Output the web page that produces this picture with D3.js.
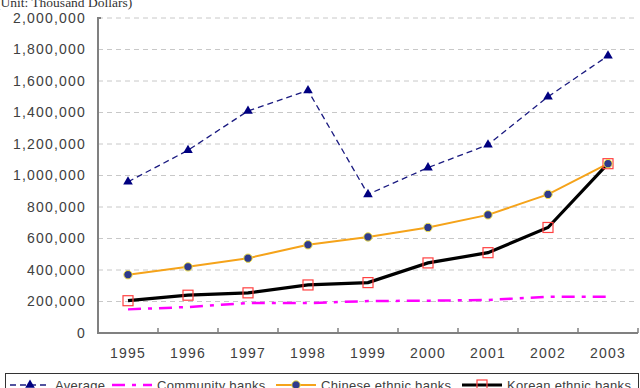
<!DOCTYPE html>
<html>
<head>
<meta charset="utf-8">
<script src="https://cdn.jsdelivr.net/npm/d3@7"></script>
<style>
  body { margin: 0; background: #fff; }
  svg { display: block; }
  .tick text { font-family: "Liberation Sans", Arial, sans-serif; font-size: 14px; fill: #404040; letter-spacing: 1.2px; }
</style>
</head>
<body>
<div id="chart"></div>
<script>
// Chart data (thousand dollars)
var years = ["1995", "1996", "1997", "1998", "1999", "2000", "2001", "2002", "2003"];
var average   = [960000, 1160000, 1410000, 1540000, 880000, 1050000, 1195000, 1500000, 1760000];
var community = [150000, 165000, 190000, 190000, 203000, 205000, 210000, 230000, 230000];
var chinese   = [370000, 420000, 475000, 560000, 610000, 670000, 750000, 880000, 1075000];
var korean    = [205000, 240000, 255000, 305000, 320000, 445000, 510000, 670000, 1075000];
var yTicks = [0, 200000, 400000, 600000, 800000, 1000000, 1200000, 1400000, 1600000, 1800000, 2000000];

var width = 640, height = 388;
var plot = {left: 98, right: 638, top: 18, bottom: 333};

var svg = d3.select("#chart").append("svg")
	.attr("width", width)
	.attr("height", height);

var x = d3.scaleBand()
	.domain(years)
	.range([plot.left, plot.right])
	.padding(0);
var y = d3.scaleLinear()
	.domain([0, 2000000])
	.range([plot.bottom, plot.top]);
function cx(d, i) { return x(years[i]) + x.bandwidth() / 2; }

// unit caption, clipped at the top edge like the original
svg.append("text")
	.attr("x", -4).attr("y", 7)
	.style("font-family", "'Liberation Serif', 'Times New Roman', serif")
	.style("font-size", "13.5px")
	.style("fill", "#333")
	.text("(Unit: Thousand Dollars)");

// gridlines
svg.append("g").selectAll("line")
	.data(yTicks.filter(function(d) { return d > 0; }))
	.enter().append("line")
	  .attr("x1", plot.left).attr("x2", plot.right)
	  .attr("y1", function(d) { return y(d); })
	  .attr("y2", function(d) { return y(d); })
	  .attr("stroke", "#c8c8c8")
	  .attr("stroke-dasharray", "5,4");

// y axis labels
var yAxis = svg.append("g")
	.attr("transform", "translate(" + plot.left + ",0)")
	.call(d3.axisLeft(y).tickValues(yTicks).tickFormat(d3.format(",")).tickSize(0).tickPadding(12));
yAxis.select(".domain").remove();

// x axis labels (centred in bands)
var xAxis = svg.append("g")
	.attr("transform", "translate(0," + plot.bottom + ")")
	.call(d3.axisBottom(x).tickSize(0).tickPadding(15));
xAxis.select(".domain").remove();

// axis lines and inward ticks between categories
svg.append("path")
	.attr("d", "M" + (plot.left + 3) + "," + plot.top + "H" + plot.left + "V" + plot.bottom + "H" + plot.right)
	.attr("fill", "none")
	.attr("stroke", "#808080")
	.attr("stroke-width", 2);
svg.append("g").selectAll("line")
	.data(years.slice(1).concat(["end"]))
	.enter().append("line")
	  .attr("x1", function(d) { return d === "end" ? plot.right : x(d); })
	  .attr("x2", function(d) { return d === "end" ? plot.right : x(d); })
	  .attr("y1", plot.bottom).attr("y2", plot.bottom - 5)
	  .attr("stroke", "#808080")
	  .attr("stroke-width", 1.5);

var line = d3.line().x(cx).y(function(d) { return y(d); });

// series styles
var series = [
	{name: "Average", data: average, color: "#1a1a80", width: 1.3, dash: "6,4", marker: "triangle"},
	{name: "Community banks", data: community, color: "#ff00ff", width: 2.5, dash: "13,7,4,7", marker: null},
	{name: "Chinese ethnic banks", data: chinese, color: "#f5a31a", width: 2, dash: null, marker: "circle"},
	{name: "Korean ethnic banks", data: korean, color: "#000000", width: 3.2, dash: null, marker: "square"}
];

function drawMarker(g, type, px, py) {
	if (type === "triangle") {
		g.append("path")
			.attr("d", d3.symbol().type(d3.symbolTriangle).size(40)())
			.attr("transform", "translate(" + px + "," + py + ")")
			.attr("fill", "#000080");
	} else if (type === "circle") {
		g.append("circle")
			.attr("cx", px).attr("cy", py).attr("r", 4.2)
			.attr("fill", "#2e3a8c")
			.attr("stroke", "#f3e34a")
			.attr("stroke-width", 1);
	} else if (type === "square") {
		g.append("rect")
			.attr("x", px - 5).attr("y", py - 5)
			.attr("width", 10).attr("height", 10)
			.attr("fill", "none")
			.attr("stroke", "#ff4040")
			.attr("stroke-width", 1.2);
	}
}

// lines first, then markers on top
var order = [1, 0, 3, 2];
order.forEach(function(k) {
	var s = series[k];
	svg.append("path")
		.datum(s.data)
		.attr("d", line)
		.attr("fill", "none")
		.attr("stroke", s.color)
		.attr("stroke-width", s.width)
		.attr("stroke-dasharray", s.dash);
});
order.forEach(function(k) {
	var s = series[k];
	if (!s.marker) return;
	var g = svg.append("g");
	s.data.forEach(function(d, i) { drawMarker(g, s.marker, cx(d, i), y(d)); });
});

// legend (box runs past the bottom edge, as in the original)
var ly = 385;
svg.append("rect")
	.attr("x", 5.5).attr("y", 373.5)
	.attr("width", 633).attr("height", 30)
	.attr("fill", "none")
	.attr("stroke", "#333")
	.attr("stroke-width", 1);
var legendX = [10, 112, 276, 462];
series.forEach(function(s, i) {
	var g = svg.append("g");
	var x0 = legendX[i];
	g.append("line")
		.attr("x1", x0).attr("x2", x0 + 40)
		.attr("y1", ly).attr("y2", ly)
		.attr("stroke", s.color)
		.attr("stroke-width", s.width)
		.attr("stroke-dasharray", s.dash);
	drawMarker(g, s.marker, x0 + 20, ly);
	g.append("text")
		.attr("x", x0 + 45).attr("y", ly + 5)
		.style("font-family", "'Liberation Sans', Arial, sans-serif")
		.style("font-size", "13px")
		.style("letter-spacing", "0.3px")
		.style("fill", "#404040")
		.text(s.name);
});
</script>
</body>
</html>
